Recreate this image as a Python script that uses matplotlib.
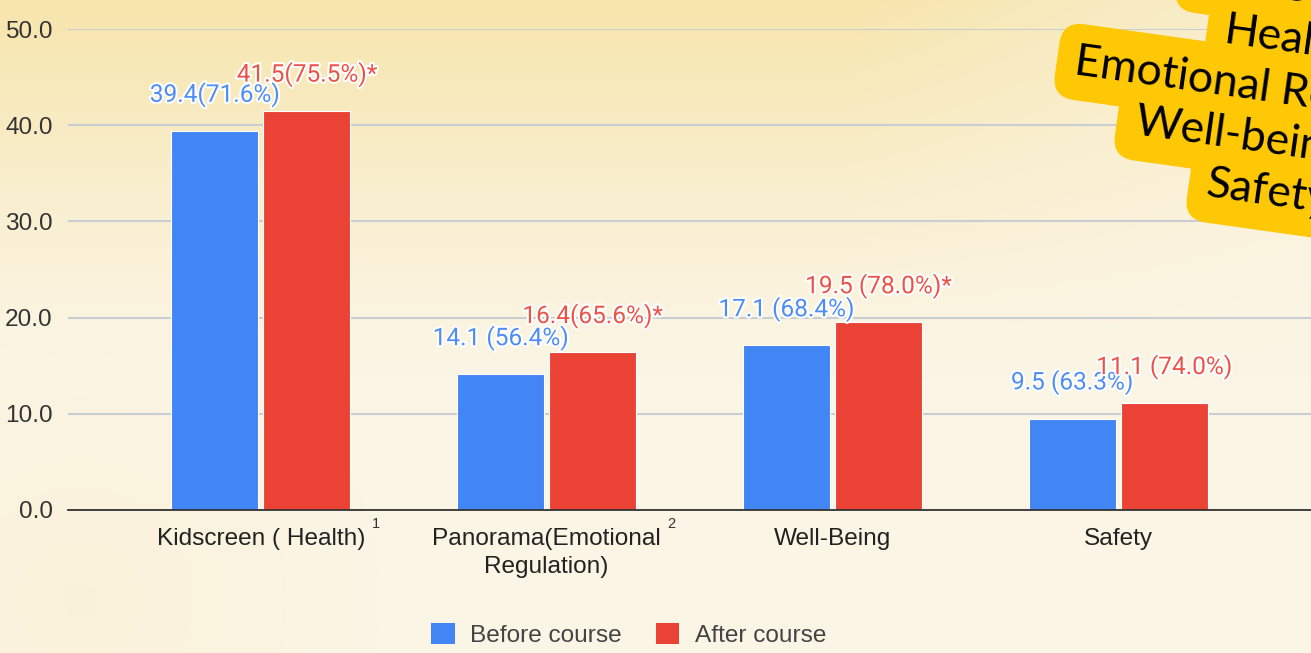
import numpy as np
import matplotlib
matplotlib.use('Agg')
import matplotlib.pyplot as plt
from matplotlib.patches import Patch
import matplotlib.patheffects as pe

# data
categories = ['Kidscreen ( Health)', 'Panorama(Emotional\nRegulation)', 'Well-Being', 'Safety']
footnotes = ['1', '2', '', '']
before = [39.4, 14.1, 17.1, 9.5]
after = [41.5, 16.4, 19.5, 11.1]
before_labels = ['39.4(71.6%)', '14.1 (56.4%)', '17.1 (68.4%)', '9.5 (63.3%)']
after_labels = ['41.5(75.5%)*', '16.4(65.6%)*', '19.5 (78.0%)*', '11.1 (74.0%)']
yticks = [0, 10, 20, 30, 40, 50]
note_lines = ['Improves', 'Health', 'Emotional Regulation', 'Well-being', 'Safety']

BLUE = '#4285F4'
RED = '#EA4335'
W, H = 1311, 653
FS = 17.6

fig = plt.figure(figsize=(W / 100, H / 100), dpi=100)

# warm paper background
yy, xx = np.mgrid[0:H, 0:W]
base = np.array([251, 245, 229]) / 255
yellow = np.array([247, 229, 172]) / 255
t = np.clip(1 - yy / 380, 0, 1) ** 1.3 * (1 - 0.6 * np.clip((xx - 850) / 450, 0, 1))
t += 0.2 * np.clip(1 - np.hypot(xx - 80, yy - 600) / 300, 0, 1)
t = np.clip(t, 0, 1)[..., None]
bg = base * (1 - t) + yellow * t
bgax = fig.add_axes([0, 0, 1, 1], zorder=-10)
bgax.imshow(bg, aspect='auto', extent=(0, 1, 0, 1))
bgax.axis('off')

ax = fig.add_axes([68 / W, (H - 510) / H, (W - 68) / W, 481 / H])
ax.patch.set_alpha(0)

x = np.arange(len(categories))
off, bw = 0.161, 0.304
ax.bar(x - off, before, width=bw, color=BLUE, edgecolor='white', linewidth=0.8, zorder=3)
ax.bar(x + off, after, width=bw, color=RED, edgecolor='white', linewidth=0.8, zorder=3)

stroke = [pe.withStroke(linewidth=3, foreground='white')]
for i in range(len(categories)):
    ax.annotate(before_labels[i], (x[i] - off, before[i]), xytext=(0, 21),
                textcoords='offset points', ha='center', va='baseline',
                color='#4E8DF5', fontsize=FS, family='Roboto', path_effects=stroke, zorder=5)
    ax.annotate(after_labels[i], (x[i] + off, after[i]), xytext=(0, 21),
                textcoords='offset points', ha='center', va='baseline',
                color='#EC5348', fontsize=FS, family='Roboto', path_effects=stroke, zorder=6)

ax.set_xlim(-0.6744, 3.675)
ax.set_ylim(0, 50)
ax.set_yticks(yticks)
ax.set_yticklabels([f'{v:.1f}' for v in yticks], fontsize=FS, color='#333333',
                   family='Liberation Sans')
ax.set_xticks(x)
ax.set_xticklabels(categories, fontsize=FS, color='#222222', family='Liberation Sans',
                   linespacing=1.35)
ax.tick_params(axis='both', length=0)
ax.tick_params(axis='y', pad=11)
ax.tick_params(axis='x', pad=13)
ax.grid(axis='y', color='#C9CDD4', linewidth=1.5, zorder=0)
ax.set_axisbelow(True)
for s in ['top', 'right', 'left']:
    ax.spines[s].set_visible(False)
ax.spines['bottom'].set_color('#333333')
ax.spines['bottom'].set_linewidth(1.3)
ax.spines['bottom'].set_zorder(4)

# footnote marks next to the tick labels
fn_dx = [115, 125, 0, 0]
for i, fn in enumerate(footnotes):
    if fn:
        ax.annotate(fn, (x[i], 0), xytext=(fn_dx[i], -14), textcoords='offset pixels',
                    ha='center', va='center', fontsize=10.5, color='#333333',
                    family='Liberation Sans')

# legend
handles = [Patch(facecolor=BLUE, label='Before course'), Patch(facecolor=RED, label='After course')]
leg = fig.legend(handles=handles, loc='center', bbox_to_anchor=(629 / W, 1 - 635 / H),
                 ncol=2, frameon=False, handlelength=0.95, handleheight=0.95,
                 handletextpad=0.65, columnspacing=1.4,
                 prop={'family': 'Liberation Sans', 'size': FS})
for txt in leg.get_texts():
    txt.set_color('#444444')

# yellow sticky note, top right
ang = -8
tan = np.tan(np.radians(8))
starts = [1194, 1223, 1073, 1133, 1205]
base_at = [-9, 43, 95, 147, 199]
for line, sx, by in zip(note_lines, starts, base_at):
    sy = by + tan * (sx - 1223)
    fig.text(sx / W, 1 - sy / H, line, rotation=ang, rotation_mode='anchor',
             ha='left', va='baseline', fontsize=32, family='Lato', color='black',
             zorder=20,
             bbox=dict(boxstyle='round,pad=0.4,rounding_size=0.5', fc='#FFC805', ec='none'))

fig.savefig('out.png', dpi=100)
